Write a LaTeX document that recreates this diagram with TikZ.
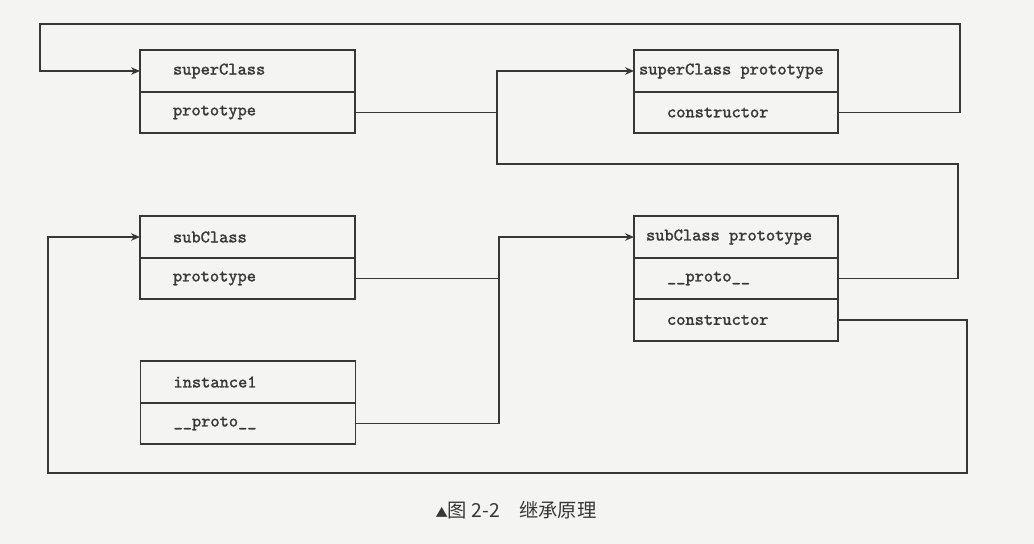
\documentclass[tikz,border=0pt]{standalone}
\usepackage{fontspec}
\usepackage{tikz}
\usetikzlibrary{arrows.meta, positioning}
\newfontfamily\cjk{Noto Sans CJK SC}
\newfontfamily\codefont{lmmono10-regular.otf}[FakeBold=1.6]
\newcommand{\monosp}{\hphantom{x}}
\definecolor{paper}{RGB}{244,244,242}
\definecolor{ink}{RGB}{55,55,55}

\begin{document}
\begin{tikzpicture}[
    x=0.02cm, y=-0.02cm,
    cell/.style={draw=ink, line width=0.9pt, minimum height=0.83cm, inner ysep=0pt,
                 outer sep=0pt, inner xsep=0.66cm, text width=2.98cm, align=left,
                 font=\codefont\bfseries, text=ink},
    rcell/.style={cell, text width=2.76cm},
    rhead/.style={cell, inner xsep=#1, text width=4.08cm-2*#1},
    arr/.style={-{Stealth[length=1.8mm, width=1.5mm]}, draw=ink, line width=0.9pt},
    link/.style={draw=ink, line width=0.9pt}
  ]
    \useasboundingbox[fill=paper] (0,0) rectangle (1034,544);

    % Left boxes
    \node[cell] (sc)  at (247.5,71) {superClass};
    \node[cell, below=0pt of sc] (scproto) {prototype};
    \node[cell] (sb)  at (247.5,237) {subClass};
    \node[cell, below=0pt of sb] (sbproto) {prototype};
    \node[cell] (inst) at (248,382) {instance1};
    \node[cell, below=0pt of inst] (iproto) {\_\_proto\_\_};

    % Right boxes
    \node[rhead=0.1cm] (scp) at (736,71) {superClass\monosp prototype};
    \node[rcell, below=0pt of scp] (scpcons) {constructor};
    \node[rhead=0.24cm] (sbp) at (736,237) {subClass\monosp prototype};
    \node[rcell, below=0pt of sbp] (sbpproto) {\_\_proto\_\_};
    \node[rcell, below=0pt of sbpproto] (sbpcons) {constructor};

    % Routing points
    \coordinate (topR) at (960,24);
    \coordinate (topL) at (40,24);
    \coordinate (busA) at (497,164);
    \coordinate (midR) at (958,164);
    \coordinate (busB) at (499,0);
    \coordinate (botR) at (967,473);
    \coordinate (botL) at (48,473);

    % constructor -> superClass
    \draw[arr] (scpcons.east) -| (topR) -- (topL) |- (sc.west);

    % prototype / __proto__ -> superClass prototype
    \draw[arr] (sbpproto.east) -| (midR) -- (busA) |- (scp.west);
    \draw[link] (scproto.east) -- (scproto.east -| busA);

    % prototype / __proto__ -> subClass prototype
    \draw[arr] (iproto.east) -| (busB |- sbp.west) -- (sbp.west);
    \draw[link] (sbproto.east) -- (sbproto.east -| busB);

    % constructor -> subClass
    \draw[arr] (sbpcons.east) -| (botR) -- (botL) |- (sb.west);

    % Caption
    \node[font=\cjk\fontsize{11}{13}\selectfont, text=ink] (cap) at (516,510)
      {{\scriptsize▲}图 2-2\quad 继承原理};
  \end{tikzpicture}
\end{document}
